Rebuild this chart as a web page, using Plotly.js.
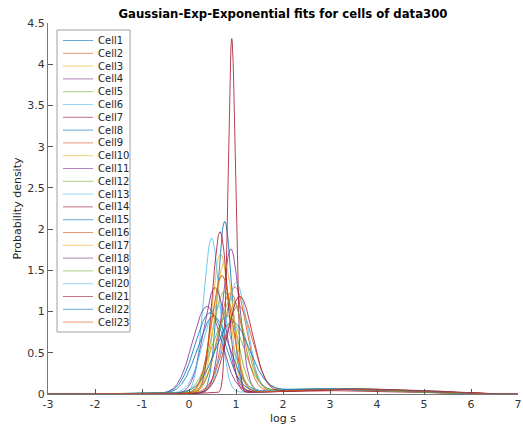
<!DOCTYPE html>
<html>
<head>
<meta charset="utf-8">
<script src="https://cdn.plot.ly/plotly-3.0.1.min.js"></script>
<style>html,body{margin:0;padding:0;background:#fff;}#chart{width:523px;height:432px;}</style>
</head>
<body>
<div id="chart"></div>
<script>
// ---- data (fit parameters per cell) ----
const cellNames = ["Cell1","Cell2","Cell3","Cell4","Cell5","Cell6","Cell7","Cell8","Cell9","Cell10","Cell11","Cell12","Cell13","Cell14","Cell15","Cell16","Cell17","Cell18","Cell19","Cell20","Cell21","Cell22","Cell23"];
// Gaussian component (in log s)
const gaussMu     = [0.76, 0.98, 0.67, 0.89, 0.75, 0.48, 0.91, 0.52, 1.05, 0.70, 0.38, 0.82, 1.00, 0.66, 0.45, 0.88, 0.75, 0.55, 0.90, 0.60, 1.08, 0.92, 0.70];
const gaussSigma  = [0.150, 0.240, 0.185, 0.183, 0.250, 0.170, 0.079, 0.330, 0.290, 0.215, 0.300, 0.330, 0.232, 0.163, 0.320, 0.260, 0.200, 0.240, 0.280, 0.290, 0.270, 0.360, 0.222];
const gaussWeight = [0.78, 0.77, 0.78, 0.80, 0.77, 0.80, 0.85, 0.77, 0.76, 0.77, 0.79, 0.77, 0.77, 0.80, 0.78, 0.79, 0.79, 0.77, 0.79, 0.77, 0.79, 0.77, 0.79];
// first exponential component (mode in log s, weight)
const exp1Mode    = [2.6, 2.9, 2.5, 2.8, 3.0, 2.7, 2.4, 2.9, 2.6, 3.1, 2.7, 2.8, 2.5, 3.0, 2.6, 2.9, 2.7, 3.2, 2.5, 2.8, 3.0, 2.6, 2.9];
const exp1Weight  = [0.12, 0.11, 0.13, 0.10, 0.12, 0.11, 0.08, 0.13, 0.12, 0.11, 0.10, 0.12, 0.13, 0.10, 0.11, 0.10, 0.11, 0.12, 0.11, 0.13, 0.10, 0.12, 0.11];
// second exponential component (mode in log s, weight)
const exp2Mode    = [4.3, 4.5, 4.1, 4.4, 4.6, 4.2, 4.0, 4.5, 4.3, 4.7, 4.2, 4.4, 4.1, 4.6, 4.3, 4.5, 4.2, 4.8, 4.0, 4.4, 4.6, 4.2, 4.5];
const exp2Weight  = [0.10, 0.12, 0.09, 0.10, 0.11, 0.09, 0.07, 0.10, 0.12, 0.12, 0.11, 0.11, 0.10, 0.10, 0.11, 0.11, 0.10, 0.11, 0.10, 0.10, 0.11, 0.11, 0.10];
const xTicks = [-3,-2,-1,0,1,2,3,4,5,6,7];
const yTicks = [0,0.5,1,1.5,2,2.5,3,3.5,4,4.5];

// MATLAB default colour order
const colorOrder = ["#0072BD","#D95319","#EDB120","#7E2F8E","#77AC30","#4DBEEE","#A2142F"];

const xs = [];
for (let i = 0; i <= 1000; i++) xs.push(-3 + i * 0.01);

function density(k, x) {
  const g = gaussWeight[k] / (gaussSigma[k] * Math.sqrt(2 * Math.PI)) *
            Math.exp(-0.5 * Math.pow((x - gaussMu[k]) / gaussSigma[k], 2));
  const t1 = Math.exp(x - exp1Mode[k]);
  const t2 = Math.exp(x - exp2Mode[k]);
  return g + exp1Weight[k] * t1 * Math.exp(-t1) + exp2Weight[k] * t2 * Math.exp(-t2);
}

const traces = cellNames.map((name, k) => ({
  type: 'scatter', mode: 'lines', name: name,
  x: xs, y: xs.map(x => density(k, x)),
  line: { color: colorOrder[k % 7], width: 0.9 },
  opacity: 0.9, showlegend: false, hoverinfo: 'skip'
}));

// plot area geometry (pixels) for the hand-built legend
const W = 523, H = 432, mL = 48, mR = 5, mT = 23, mB = 38;
const pw = W - mL - mR, ph = H - mT - mB;
const px = v => (v - mL) / pw;
const py = v => (H - mB - v) / ph;

const shapes = [{
  type: 'rect', xref: 'paper', yref: 'paper',
  x0: px(57), x1: px(130), y0: py(332), y1: py(30),
  line: { color: '#a0a0a0', width: 1 }, fillcolor: '#ffffff', layer: 'above'
}];
const annotations = [];
cellNames.forEach((name, k) => {
  const yc = 40.5 + k * 12.8;
  shapes.push({
    type: 'line', xref: 'paper', yref: 'paper',
    x0: px(63), x1: px(93), y0: py(yc), y1: py(yc),
    line: { color: colorOrder[k % 7], width: 1 }, opacity: 0.6, layer: 'above'
  });
  annotations.push({
    xref: 'paper', yref: 'paper', x: px(96), y: py(yc),
    xanchor: 'left', yanchor: 'middle', showarrow: false,
    text: name, font: { family: 'DejaVu Sans', size: 10, color: '#262626' }
  });
});

const layout = {
  width: W, height: H,
  margin: { l: mL, r: mR, t: mT, b: mB, pad: 0 },
  paper_bgcolor: '#ffffff', plot_bgcolor: '#ffffff',
  font: { family: 'DejaVu Sans', size: 11, color: '#333333' },
  title: { text: '<b>Gaussian-Exp-Exponential fits for cells of data300</b>',
           font: { family: 'DejaVu Sans', size: 11.7, color: '#000000' },
           x: 0.5 * (mL + W - mR) / W, xanchor: 'center', y: 1 - 14 / H, yanchor: 'middle' },
  xaxis: {
    range: [-3, 7], tickvals: xTicks, ticktext: xTicks.map(String),
    ticks: 'inside', ticklen: 5, tickcolor: '#555', showline: true, linecolor: '#777', linewidth: 1,
    showgrid: false, zeroline: false, mirror: false, automargin: false,
    tickfont: { size: 11, color: '#333' },
    title: { text: 'log s', font: { size: 11, color: '#262626' }, standoff: 4 }
  },
  yaxis: {
    range: [0, 4.5], tickvals: yTicks, ticktext: yTicks.map(String),
    ticks: 'inside', ticklen: 5, tickcolor: '#555', showline: true, linecolor: '#777', linewidth: 1,
    showgrid: false, zeroline: false, mirror: false, automargin: false,
    tickfont: { size: 11, color: '#333' },
    title: { text: 'Probability density', font: { size: 11, color: '#262626' }, standoff: 3 }
  },
  shapes: shapes, annotations: annotations, showlegend: false
};

Plotly.newPlot('chart', traces, layout, { displayModeBar: false, staticPlot: true });
</script>
</body>
</html>
